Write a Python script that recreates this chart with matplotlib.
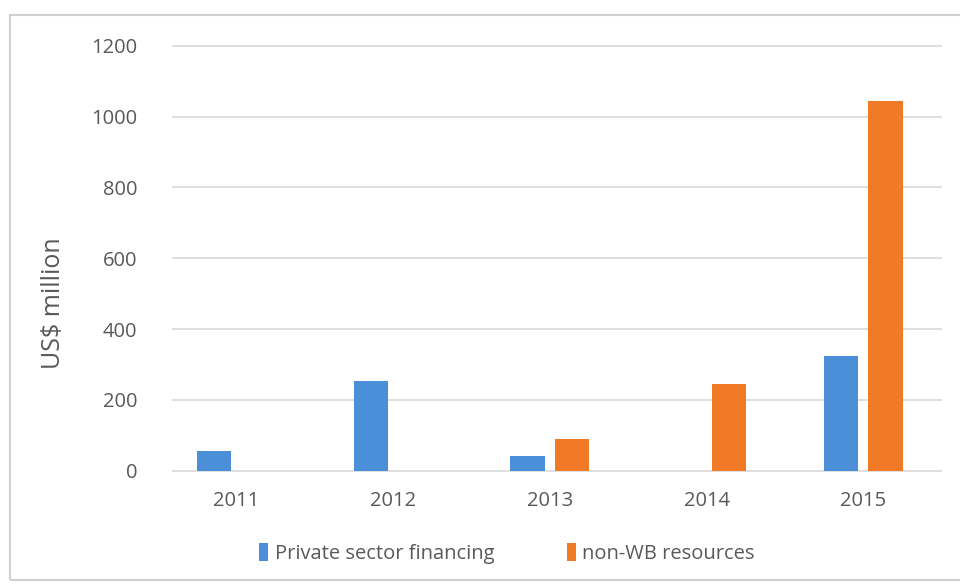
import matplotlib.pyplot as plt
import numpy as np
from matplotlib.patches import Rectangle

years = ['2011', '2012', '2013', '2014', '2015']
private_sector = [54, 253, 40, 0, 324]
non_wb = [0, 0, 88, 245, 1045]

blue = '#4a8fd8'
orange = '#f07a26'
text_color = '#595959'

plt.rcParams['font.family'] = ['Open Sans', 'DejaVu Sans']

fig = plt.figure(figsize=(9.6, 5.85), dpi=100)
ax = fig.add_axes([0.1646, 0.1957, 0.8164, 0.7257])

# light frame round the whole chart area
fig.patches.append(Rectangle((10 / 960, 5 / 585), 1.2, 565 / 585, transform=fig.transFigure,
                             fill=False, edgecolor='#d0d0d0', linewidth=1.5))

x = np.arange(len(years))
width = 0.22
offset = 0.142
ax.bar(x - offset, private_sector, width, color=blue, label='Private sector financing', zorder=3)
ax.bar(x + offset, non_wb, width, color=orange, label='non-WB resources', zorder=3)

ax.set_xlim(-0.5, 4.5)
ax.set_ylim(0, 1200)
ax.set_yticks(range(0, 1201, 200))
ax.set_xticks(x)
ax.set_xticklabels(years)

# gridlines start a little right of the axes edge
ticks = ax.get_yticks()
ax.hlines(ticks, -0.41, 4.5, color='#d9d9d9', linewidth=1.2, zorder=0, clip_on=False)

for side in ['top', 'right', 'left', 'bottom']:
    ax.spines[side].set_visible(False)

ax.tick_params(axis='both', length=0, labelsize=14.5, colors=text_color)
ax.tick_params(axis='y', pad=15)
ax.tick_params(axis='x', pad=15)
ax.set_ylabel('US$ million', fontsize=18, color=text_color)
ax.yaxis.set_label_coords(-0.118, 0.395)

leg = ax.legend(loc='center', bbox_to_anchor=(0.445, -0.195), ncol=2, frameon=False,
                fontsize=14.5, handlelength=0.45, handleheight=1.0, handletextpad=0.3,
                columnspacing=3.6)
for t in leg.get_texts():
    t.set_color(text_color)

fig.savefig('out.png', dpi=100)
